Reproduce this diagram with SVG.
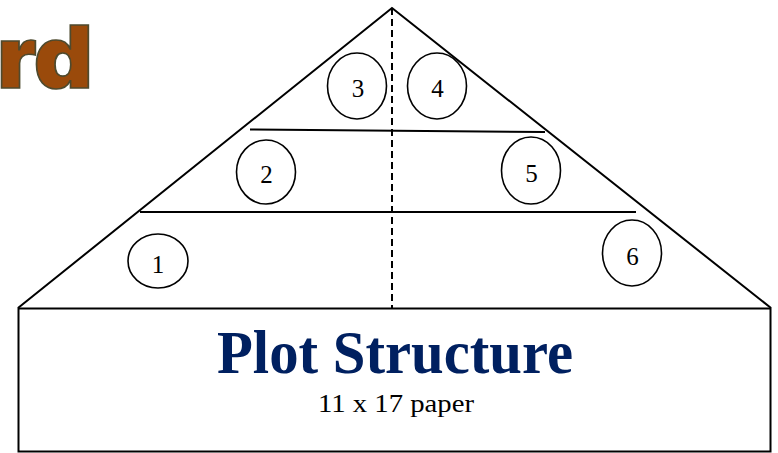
<svg xmlns="http://www.w3.org/2000/svg" width="778" height="453" viewBox="0 0 778 453">
<style>
.ln{stroke:#000;stroke-width:2;fill:none}
.c{stroke:#000;stroke-width:1.6;fill:#fff}
.n{font-family:"Liberation Serif","Times New Roman",serif;font-size:25px;fill:#000;text-anchor:middle}
</style>
<rect width="778" height="453" fill="#fff"/>
<g id="word">
<text x="93" y="88" text-anchor="end" font-family="Inter,'DejaVu Sans',sans-serif" font-weight="900" font-size="86" fill="#9A4A0B" stroke="#4E4A2E" stroke-width="1.6" textLength="96" lengthAdjust="spacingAndGlyphs">rd</text>
</g>
<g id="connectors">
<polyline class="ln" points="18,308 392,8 771,308"/>
<line class="ln" x1="392" y1="8" x2="392" y2="308" stroke-dasharray="7,4"/>
<line class="ln" x1="250" y1="129.5" x2="545" y2="132"/>
<line class="ln" x1="140" y1="212" x2="636" y2="212"/>
</g>
<g id="base">
<rect class="ln" x="18.5" y="308.5" width="752" height="143"/>
<text x="395" y="373" text-anchor="middle" font-family="'Liberation Serif','Times New Roman',serif" font-weight="bold" font-size="62" fill="#002060" textLength="356" lengthAdjust="spacingAndGlyphs">Plot Structure</text>
<text x="396" y="412" text-anchor="middle" font-family="'Liberation Serif','Times New Roman',serif" font-size="25" fill="#000" textLength="156" lengthAdjust="spacingAndGlyphs">11 x 17 paper</text>
</g>
<g id="node1"><ellipse class="c" cx="158" cy="261" rx="30" ry="27"/><text class="n" x="158" y="273">1</text></g>
<g id="node2"><ellipse class="c" cx="266" cy="172" rx="29.5" ry="32"/><text class="n" x="266.5" y="183">2</text></g>
<g id="node3"><ellipse class="c" cx="357" cy="86" rx="29.5" ry="33"/><text class="n" x="358" y="97">3</text></g>
<g id="node4"><ellipse class="c" cx="437" cy="86" rx="29.5" ry="33"/><text class="n" x="437.5" y="97">4</text></g>
<g id="node5"><ellipse class="c" cx="531" cy="170.5" rx="29.5" ry="33.5"/><text class="n" x="531.5" y="182">5</text></g>
<g id="node6"><ellipse class="c" cx="632" cy="253" rx="29.5" ry="33"/><text class="n" x="632.5" y="265">6</text></g>
</svg>
